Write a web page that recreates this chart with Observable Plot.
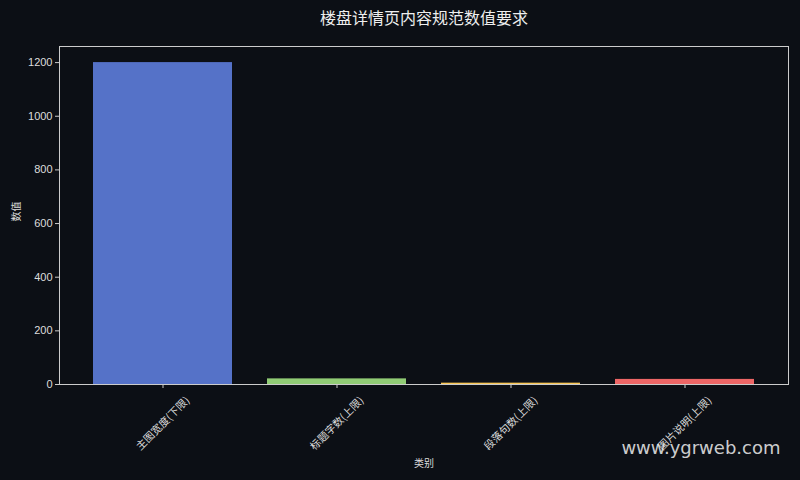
<!DOCTYPE html>
<html>
<head>
<meta charset="utf-8">
<script src="https://cdn.jsdelivr.net/npm/d3@7"></script>
<script src="https://cdn.jsdelivr.net/npm/@observablehq/plot@0.6"></script>
<style>
  html, body { margin: 0; padding: 0; background: #0c0f15; }
  #chart svg { display: block; }
</style>
</head>
<body>
<div id="chart"></div>
<script>
const categories = ["主图宽度(下限)", "标题字数(上限)", "段落句数(上限)", "图片说明(上限)"];
const values = [1200, 21, 5, 19];
const colors = ["#5572c8", "#91cc75", "#fac858", "#ee6666"];
const yTicks = [0, 200, 400, 600, 800, 1000, 1200];
const titleText = "楼盘详情页内容规范数值要求";
const xLabel = "类别";
const yLabel = "数值";
const watermark = "www.ygrweb.com";

const data = categories.map((c, i) => ({category: c, value: values[i]}));
const cjk = "'Noto Sans CJK SC', sans-serif";

const chart = Plot.plot({
  width: 800,
  height: 480,
  marginTop: 46,
  marginBottom: 96,
  marginLeft: 59,
  marginRight: 12,
  style: {background: "#0c0f15", color: "#dddddd", fontFamily: "'Liberation Sans', 'Noto Sans CJK SC', sans-serif", fontSize: "10px"},
  x: {domain: categories, paddingInner: 0.2, paddingOuter: 0.19, label: null},
  y: {domain: [0, 1260], label: null},
  color: {domain: categories, range: colors},
  marks: [
    Plot.barY(data, {x: "category", y: "value", fill: "category"}),
    Plot.frame({stroke: "#cccccc", strokeWidth: 1}),
    Plot.axisY({ticks: yTicks, tickFormat: d3.format("d"), tickSize: 4, tickPadding: 3, stroke: "#cccccc", fill: "#dddddd", fontSize: 11, fontFamily: "'Liberation Sans', sans-serif", label: null}),
    Plot.axisX({tickSize: 4, text: null, stroke: "#cccccc", label: null}),
    Plot.text(categories, {x: d => d, frameAnchor: "bottom", dy: 39, rotate: -45, textAnchor: "middle", lineAnchor: "middle", fontSize: 10.5, fill: "#dddddd", fontFamily: cjk}),
    Plot.text([titleText], {frameAnchor: "top", dy: -28, lineAnchor: "middle", fontSize: 16, fill: "#eeeeee", fontFamily: cjk}),
    Plot.text([xLabel], {frameAnchor: "bottom", dy: 79, lineAnchor: "middle", fontSize: 10, fill: "#dddddd", fontFamily: cjk}),
    Plot.text([yLabel], {frameAnchor: "left", dx: -43, dy: 6, rotate: -90, fontSize: 10, fill: "#dddddd", fontFamily: cjk}),
    Plot.text([watermark], {frameAnchor: "bottom-right", dx: -8, dy: 64, textAnchor: "end", lineAnchor: "middle", fontSize: 18, fill: "#e6e6e6", fillOpacity: 0.9, fontFamily: "'DejaVu Sans', sans-serif"})
  ]
});
document.getElementById("chart").appendChild(chart);
</script>
</body>
</html>
